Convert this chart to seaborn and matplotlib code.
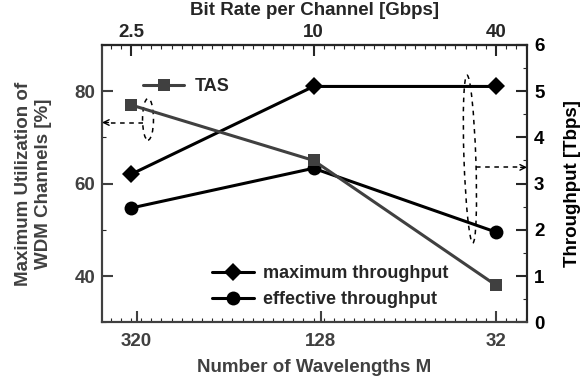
import matplotlib
matplotlib.use("Agg")
import matplotlib.pyplot as plt
from matplotlib.patches import Ellipse
from matplotlib.ticker import MultipleLocator, FixedLocator
import seaborn as sns
import pandas as pd

# Data
wavelengths = ["320", "128", "32"]
bit_rates = ["2.5", "10", "40"]
tas_util = [77, 65, 38]              # % (left axis)
max_throughput = [3.2, 5.1, 5.1]     # Tbps (right axis)
eff_throughput = [2.47, 3.33, 1.95]  # Tbps (right axis)

idx = list(range(len(wavelengths)))
df = pd.DataFrame({"pos": idx, "tas": tas_util,
                   "max": max_throughput, "eff": eff_throughput})

sns.set_style("ticks")
plt.rcParams["font.family"] = ["Liberation Sans", "DejaVu Sans"]
plt.rcParams["font.weight"] = "bold"

GRAY = "#404040"
FS = 13.5      # tick labels
LFS = 13.5     # axis labels
LEGFS = 13

fig = plt.figure(figsize=(5.81, 3.80), dpi=100)
ax = fig.add_axes([0.1756, 0.152, 0.7315, 0.730])
ax2 = ax.twinx()

xmin, xmax = -0.159, 2.17

# TAS utilisation on the left axis
sns.lineplot(data=df, x="pos", y="tas", ax=ax, sort=False, color=GRAY,
             linewidth=2.2, marker="s", markersize=8.5, markeredgewidth=0,
             markerfacecolor=GRAY, label="TAS")

# Throughput curves on the right axis
sns.lineplot(data=df, x="pos", y="max", ax=ax2, sort=False, color="black",
             linewidth=2.2, marker="D", markersize=9.5, markeredgewidth=0,
             label="maximum throughput")
sns.lineplot(data=df, x="pos", y="eff", ax=ax2, sort=False, color="black",
             linewidth=2.2, marker="o", markersize=10, markeredgewidth=0,
             label="effective throughput")

ax.set_xlim(xmin, xmax)
ax2.set_xlim(xmin, xmax)
ax.set_ylim(30, 90)
ax2.set_ylim(0, 6)

# Bottom axis: number of wavelengths
ax.xaxis.set_major_locator(FixedLocator([0.03, 1.04, 2.0]))
ax.set_xticklabels(wavelengths, fontsize=FS, fontweight="bold", color=GRAY)
ax.xaxis.set_minor_locator(MultipleLocator(1 / 18))
ax.set_xlabel("Number of Wavelengths M", fontsize=LFS, fontweight="bold",
              color=GRAY, labelpad=6)

# Left axis
ax.yaxis.set_major_locator(FixedLocator([40, 60, 80]))
ax.yaxis.set_minor_locator(MultipleLocator(10))
ax.tick_params(axis="y", labelsize=FS, labelcolor=GRAY)
for lab in ax.get_yticklabels():
    lab.set_fontweight("bold")
ax.set_ylabel("Maximum Utilization of\nWDM Channels [%]", fontsize=LFS,
              fontweight="bold", color=GRAY, labelpad=16)

# Right axis
ax2.yaxis.set_major_locator(MultipleLocator(1))
ax2.yaxis.set_minor_locator(MultipleLocator(0.5))
ax2.tick_params(axis="y", labelsize=FS, labelcolor="black")
for lab in ax2.get_yticklabels():
    lab.set_fontweight("bold")
ax2.set_ylabel("Throughput [Tbps]", fontsize=LFS, fontweight="bold",
               color="black", labelpad=14)

# Top axis: bit rate per channel
top = ax.secondary_xaxis("top")
top.xaxis.set_major_locator(FixedLocator(idx))
top.set_xticklabels(bit_rates, fontsize=FS, fontweight="bold")
top.xaxis.set_minor_locator(MultipleLocator(1 / 18))
top.set_xlabel("Bit Rate per Channel [Gbps]", fontsize=LFS,
               fontweight="bold", labelpad=6)
top.tick_params(which="major", direction="in", length=8, width=1.5, pad=3)
top.tick_params(which="minor", direction="in", length=3, width=0.8)

for a in (ax, ax2):
    a.tick_params(which="major", direction="in", length=8, width=1.5, pad=5)
    a.tick_params(which="minor", direction="in", length=3, width=0.8)
    for s in a.spines.values():
        s.set_visible(True)
        s.set_linewidth(1.5)
ax.tick_params(axis="x", which="major", pad=8)
ax.tick_params(axis="x", colors=GRAY, labelcolor=GRAY)
ax.spines["bottom"].set_color(GRAY)
ax.spines["left"].set_color(GRAY)
ax.tick_params(axis="y", colors=GRAY)
for s in top.spines.values():
    s.set_linewidth(1.5)

# Legends
leg1 = ax.legend(loc="upper left", bbox_to_anchor=(0.096, 0.88),
                 frameon=False, prop={"weight": "bold", "size": LEGFS},
                 borderpad=0, borderaxespad=0, handlelength=2.3,
                 handletextpad=0.6)
leg2 = ax2.legend(loc="upper left", bbox_to_anchor=(0.259, 0.205),
                  frameon=False, prop={"weight": "bold", "size": LEGFS},
                  borderpad=0, borderaxespad=0, handlelength=2.3,
                  handletextpad=0.5, labelspacing=0.5)
ax.set_zorder(ax2.get_zorder() + 1)
ax.patch.set_visible(False)

# Dashed ellipses marking which axis each group belongs to
ax.add_patch(Ellipse((0.093, 73.9), 0.06, 9.0, fill=False, linestyle=(0, (3, 3)),
                     linewidth=1.1, edgecolor="black"))
ax.plot([0.066, xmin + 0.03], [73.2, 73.2], linestyle=(0, (3, 3)),
        color="black", linewidth=1.1)
ax.annotate("", xy=(xmin, 73.2), xytext=(xmin + 0.035, 73.2),
            arrowprops=dict(arrowstyle="->", color="black", lw=1.0,
                            shrinkA=0, shrinkB=0))

ax2.add_patch(Ellipse((1.857, 3.53), 0.065, 3.63, angle=0.5, fill=False,
                      linestyle=(0, (3, 3)), linewidth=1.1, edgecolor="black"))
ax2.plot([1.892, xmax - 0.03], [3.35, 3.35], linestyle=(0, (3, 3)),
         color="black", linewidth=1.1)
ax2.annotate("", xy=(xmax, 3.35), xytext=(xmax - 0.035, 3.35),
             arrowprops=dict(arrowstyle="->", color="black", lw=1.0,
                             shrinkA=0, shrinkB=0))

fig.savefig("out.png", dpi=100)
